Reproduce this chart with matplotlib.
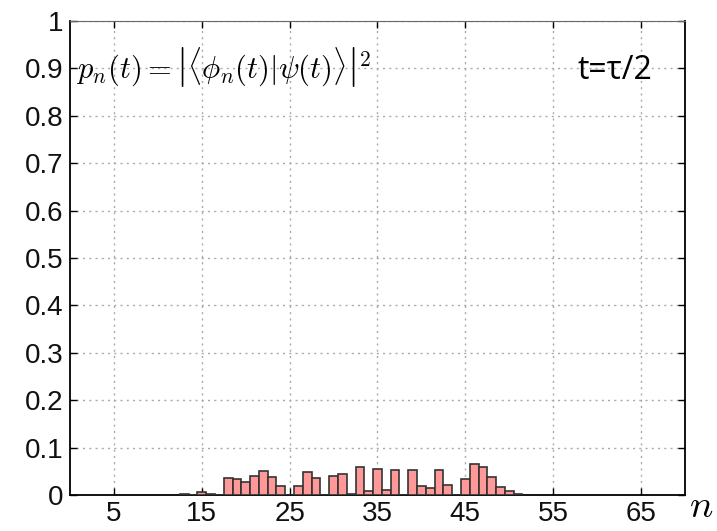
import matplotlib
matplotlib.use("Agg")
import matplotlib.pyplot as plt
from matplotlib.ticker import FuncFormatter

# occupation probabilities p_n
N_VALUES = list(range(13, 52))
P_VALUES = [0.003, 0.0, 0.006, 0.002, 0.0, 0.036, 0.034, 0.027, 0.041, 0.051,
            0.039, 0.020, 0.001, 0.020, 0.049, 0.036, 0.0, 0.041, 0.044, 0.003,
            0.060, 0.008, 0.055, 0.011, 0.053, 0.0, 0.053, 0.018, 0.015, 0.053,
            0.022, 0.0, 0.034, 0.065, 0.060, 0.037, 0.017, 0.008, 0.003]

X_TICKS = [5, 15, 25, 35, 45, 55, 65]
Y_TICKS = [0, 0.1, 0.2, 0.3, 0.4, 0.5, 0.6, 0.7, 0.8, 0.9, 1.0]

plt.rcParams['font.family'] = ['Liberation Sans', 'DejaVu Sans']
plt.rcParams['mathtext.fontset'] = 'cm'

fig = plt.figure(figsize=(7.17, 5.31), dpi=100)
ax = fig.add_axes([70 / 717, 36 / 531, 615 / 717, 474 / 531])

ax.bar(N_VALUES, P_VALUES, width=1.0, color='#ff9999', edgecolor='#333333',
       linewidth=1.2, zorder=3)

ax.set_xlim(0, 70)
ax.set_ylim(0, 1)
ax.set_xticks(X_TICKS)
ax.set_yticks(Y_TICKS)
ax.yaxis.set_major_formatter(FuncFormatter(lambda v, p: '%g' % v))
ax.tick_params(direction='in', length=5, width=1, top=True, right=True,
               labelsize=20, pad=5, labelcolor='#111111')
ax.tick_params(axis='x', pad=4)
ax.grid(True, linestyle=(0, (1.5, 3)), color='#aaaaaa', linewidth=1, zorder=0)
for side in ['left', 'right', 'bottom']:
    ax.spines[side].set_linewidth(1.3)
ax.spines['top'].set_color('#666666')

ax.text(0.01, 0.95, r'$p_n(t) = \left|\langle\phi_n(t)|\psi(t)\rangle\right|^2$',
        transform=ax.transAxes, fontsize=22, va='top', ha='left')
ax.text(0.825, 0.895, 't=τ/2', transform=ax.transAxes, fontsize=23,
        family=['Open Sans', 'DejaVu Sans'], va='center', ha='left')
fig.text(0.978, 0.045, r'$n$', fontsize=28, ha='center', va='center')

fig.savefig('out.png', dpi=100)
